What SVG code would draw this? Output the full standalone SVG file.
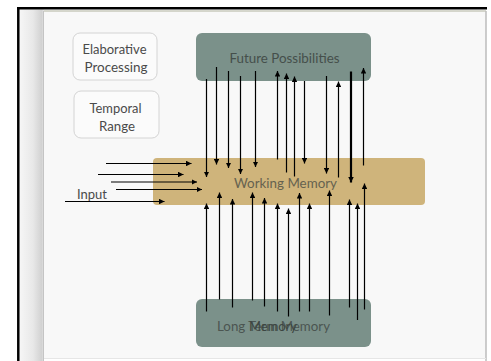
<svg xmlns="http://www.w3.org/2000/svg" width="491" height="361" viewBox="0 0 491 361">
<style>
.lbl{font-family:"Lato","Liberation Sans",sans-serif;font-size:13.5px;fill:#454f4b}
.side{font-family:"Lato","Liberation Sans",sans-serif;font-size:13px;fill:#4a4a4a;text-anchor:middle}
.cn line{stroke:#000;stroke-width:1.2;marker-end:url(#ah)}
</style>
<defs>
<marker id="ah" viewBox="0 0 10 10" refX="10" refY="5" markerWidth="5.5" markerHeight="5.5" orient="auto" markerUnits="userSpaceOnUse"><path d="M0,0 L10,5 L0,10 z" fill="#000"/></marker>
<linearGradient id="sh" x1="0" y1="0" x2="1" y2="0">
<stop offset="0" stop-color="#f6f6f6"/><stop offset="0.55" stop-color="#e8e8e8"/><stop offset="0.9" stop-color="#d2d2d2"/><stop offset="1" stop-color="#e4e4e4"/>
</linearGradient>
</defs>
<rect width="491" height="361" fill="#ffffff"/>
<rect x="19.5" y="9.5" width="24.5" height="352" fill="url(#sh)"/>
<rect x="44" y="11" width="442" height="347" fill="#f8f8f8"/>
<line x1="44" y1="11" x2="486" y2="11" stroke="#c8cabc" stroke-width="1.5"/>
<line x1="43.5" y1="11" x2="43.5" y2="361" stroke="#c4c4c4" stroke-width="1"/>
<line x1="486" y1="11" x2="486" y2="361" stroke="#bdbdbd" stroke-width="1.5"/>
<line x1="44" y1="358.5" x2="486" y2="358.5" stroke="#e6e6e6" stroke-width="1"/>
<line x1="18.3" y1="7" x2="18.3" y2="361" stroke="#000" stroke-width="2.5"/>
<line x1="17" y1="8.3" x2="487" y2="8.3" stroke="#000" stroke-width="2.5"/>

<g id="elaborative">
<rect x="73" y="33" width="84" height="47" rx="7" fill="#fbfbfb" stroke="#d4d4d4" stroke-width="1"/>
<text class="side" x="114.5" y="53.5" textLength="64" lengthAdjust="spacingAndGlyphs">Elaborative</text>
<text class="side" x="116" y="71.5" textLength="63" lengthAdjust="spacingAndGlyphs">Processing</text>
</g>
<g id="temporal">
<rect x="74" y="91" width="85" height="47" rx="7" fill="#fbfbfb" stroke="#d4d4d4" stroke-width="1"/>
<text class="side" x="115.5" y="113" textLength="52" lengthAdjust="spacingAndGlyphs">Temporal</text>
<text class="side" x="117" y="130.5" textLength="36" lengthAdjust="spacingAndGlyphs">Range</text>
</g>
<g id="future">
<rect x="196" y="33" width="175" height="48" rx="6" fill="#7b918a"/>
<text class="lbl" x="229.5" y="63" textLength="110" lengthAdjust="spacingAndGlyphs">Future Possibilities</text>
</g>
<g id="working">
<rect x="153" y="158" width="272" height="47" rx="4" fill="#cfb47b"/>
<text class="lbl" x="234" y="187.5" textLength="103" lengthAdjust="spacingAndGlyphs" style="fill:#66624f">Working Memory</text>
</g>
<g id="longterm">
<rect x="196" y="299" width="175" height="48" rx="6" fill="#7b918a"/>
<text class="lbl" x="217" y="331" textLength="113" lengthAdjust="spacingAndGlyphs" style="fill:#4b5551">Long Term Memory</text>
<text class="lbl" x="249" y="331" textLength="48" lengthAdjust="spacingAndGlyphs" style="fill:#3c4541">Memory</text>
</g>
<g id="input">
<text class="side" x="92" y="199" textLength="30" lengthAdjust="spacingAndGlyphs" style="font-size:12.5px">Input</text>
</g>

<g id="connectors" class="cn">
<line x1="106" y1="163.5" x2="191.5" y2="163.5"/>
<line x1="98" y1="174.5" x2="183.5" y2="174.5"/>
<line x1="111" y1="182" x2="197" y2="182"/>
<line x1="116" y1="189.5" x2="202" y2="189.5"/>
<line x1="65" y1="201.5" x2="164.5" y2="201.5"/>

<line x1="206.5" y1="79" x2="206.5" y2="177"/>
<line x1="216.5" y1="67" x2="216.5" y2="164.5"/>
<line x1="228.5" y1="71" x2="228.5" y2="168"/>
<line x1="240.5" y1="76" x2="240.5" y2="174"/>
<line x1="255.5" y1="71" x2="255.5" y2="167"/>
<line x1="304.5" y1="81" x2="304.5" y2="163.5"/>
<line x1="326.5" y1="76" x2="326.5" y2="173.5"/>
<line x1="351" y1="71.5" x2="351" y2="182.5" style="stroke-width:2.2"/>
<line x1="277.5" y1="159.5" x2="277.5" y2="71"/>
<line x1="286.5" y1="172.5" x2="286.5" y2="73.5"/>
<line x1="294.5" y1="176.5" x2="294.5" y2="76.5"/>
<line x1="338.5" y1="177.5" x2="338.5" y2="81.5"/>
<line x1="363.5" y1="165.5" x2="363.5" y2="68"/>

<line x1="206.5" y1="311.5" x2="206.5" y2="203.5"/>
<line x1="219.5" y1="299.5" x2="219.5" y2="192.5"/>
<line x1="232.5" y1="307.5" x2="232.5" y2="199"/>
<line x1="252.5" y1="300.5" x2="252.5" y2="192.5"/>
<line x1="264.5" y1="306.5" x2="264.5" y2="198"/>
<line x1="277.5" y1="311.5" x2="277.5" y2="203.5"/>
<line x1="288.5" y1="316.5" x2="288.5" y2="208.5"/>
<line x1="299.5" y1="311.5" x2="299.5" y2="193"/>
<line x1="309.5" y1="311.5" x2="309.5" y2="203.5"/>
<line x1="329.5" y1="315.5" x2="329.5" y2="190.5"/>
<line x1="349.5" y1="307.5" x2="349.5" y2="199.5"/>
<line x1="357.5" y1="320" x2="357.5" y2="203.5"/>
<line x1="364.5" y1="309.5" x2="364.5" y2="183.5"/>
</g>
</svg>
